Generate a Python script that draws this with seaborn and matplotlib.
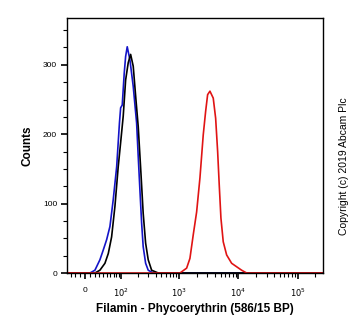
import numpy as np
import pandas as pd
import matplotlib
matplotlib.use("Agg")
import matplotlib.pyplot as plt
from matplotlib.ticker import FixedLocator, FixedFormatter
import seaborn as sns

# ---- data ----
blue_x = [-39, 10.1, 20.5, 31.7, 39.8, 48.8, 58.3, 68.6, 80.9, 91.7, 96.7, 103.7, 113,
          119.9, 128.3, 143.5, 164.2, 188.5, 201, 215, 230.3, 245, 269.9, 299, 364, 263000]
blue_y = [0, 0, 4, 19, 33, 48, 67, 105, 153, 216, 238, 242, 288,
          312, 326, 307, 269, 216, 168, 120, 72, 38, 14, 4, 0, 0]

black_x = [-39, 20.5, 31.7, 44.2, 53.4, 63.5, 74.6, 86.8, 97.9, 108.2, 119.9, 133.7,
           147.7, 164.2, 183.3, 201, 224, 245, 269.9, 299, 342, 443, 263000]
black_y = [0, 0, 4, 14, 28, 52, 96, 153, 192, 226, 278, 303,
           315, 298, 250, 211, 144, 86, 43, 19, 4, 0, 0]

red_x = [-39, 1032, 1339, 1522, 1731, 1975, 2246, 2553, 2803, 3028, 3313, 3766, 4134,
         4468, 4753, 5078, 5553, 6338, 7696, 9347, 11353, 13789, 263000]
red_y = [0, 0, 7, 21, 55, 88, 137, 199, 233, 257, 262, 252, 223,
         175, 127, 79, 45, 26, 14, 9, 4, 0, 0]

series_names = ["isotype", "unlabelled", "Filamin"]
series_colors = ["#1414c8", "#000000", "#e01414"]

y_ticks = [0, 100, 200, 300]
x_major = [0, 100, 1000, 10000, 100000]
x_major_labels = ["0", "$10^2$", "$10^3$", "$10^4$", "$10^5$"]

df = pd.concat([
    pd.DataFrame({"x": blue_x, "y": blue_y, "s": series_names[0]}),
    pd.DataFrame({"x": black_x, "y": black_y, "s": series_names[1]}),
    pd.DataFrame({"x": red_x, "y": red_y, "s": series_names[2]}),
])

sns.set_style("ticks")
plt.rcParams["font.family"] = ["Liberation Sans", "DejaVu Sans"]
plt.rcParams["text.color"] = "black"
plt.rcParams["axes.labelcolor"] = "black"
plt.rcParams["xtick.color"] = "black"
plt.rcParams["ytick.color"] = "black"

fig = plt.figure(figsize=(3.56, 3.36), dpi=100)
ax = fig.add_axes([0.188, 0.1875, 0.718, 0.758])

A = 51.5
def fwd(v):
    return np.arcsinh(np.asarray(v) / A) / np.log(10)
def inv(v):
    return A * np.sinh(np.asarray(v) * np.log(10))
ax.set_xscale("function", functions=(fwd, inv))

sns.lineplot(data=df, x="x", y="y", hue="s", palette=series_colors,
             estimator=None, sort=False, linewidth=1.2, legend=False, ax=ax)

ax.set_xlim(-39, 263000)
ax.set_ylim(0, 367)

# x ticks
minor = [-30, -20, -10, 10, 20, 30, 40, 50, 60, 70, 80, 90]
for dec in [100, 1000, 10000, 100000]:
    minor += [dec * k for k in range(2, 10) if dec * k < 263000]
ax.xaxis.set_major_locator(FixedLocator(x_major))
ax.xaxis.set_major_formatter(FixedFormatter(x_major_labels))
ax.xaxis.set_minor_locator(FixedLocator(minor))
ax.yaxis.set_major_locator(FixedLocator(y_ticks))
ax.yaxis.set_minor_locator(FixedLocator(np.arange(0, 367, 25)))

ax.tick_params(axis="both", which="major", direction="out", length=4, width=1.2,
               labelsize=6, pad=3, colors="black")
ax.tick_params(axis="both", which="minor", direction="out", length=3, width=0.8,
               colors="black")
ax.tick_params(axis="x", which="major", pad=6)

for sp in ax.spines.values():
    sp.set_visible(True)
    sp.set_linewidth(1.0)
    sp.set_color("black")

ax.set_xlabel("Filamin - Phycoerythrin (586/15 BP)", fontsize=8.5, fontweight="bold",
              labelpad=3, color="black")
ax.set_ylabel("Counts", fontsize=8.5, fontweight="bold", labelpad=7, color="black")

fig.text(0.965, 0.506, "Copyright (c) 2019 Abcam Plc", rotation=90, fontsize=7.5,
         ha="center", va="center", color="black")

fig.savefig("out.png", dpi=100)
